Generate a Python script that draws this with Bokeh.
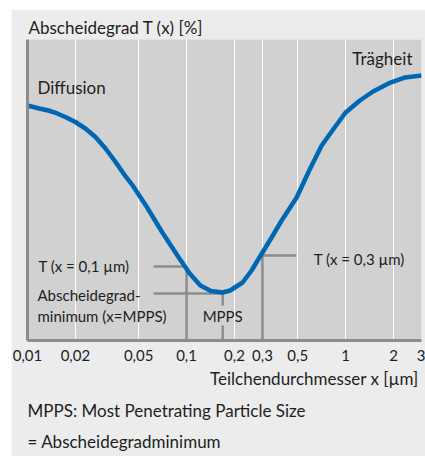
from bokeh.plotting import figure
from bokeh.models import FixedTicker, Label, Title
from bokeh.embed import file_html
from bokeh.resources import INLINE

# Curve (particle diameter in µm, separation efficiency in relative units 0-100)
diameter = [0.01, 0.01185, 0.01351, 0.01539, 0.01755, 0.02, 0.02312, 0.02675, 0.03094,
            0.03579, 0.04138, 0.04583, 0.05628, 0.07013, 0.08884, 0.1047, 0.1222, 0.1425,
            0.1688, 0.188, 0.225, 0.2564, 0.2922, 0.3396, 0.3963, 0.4922, 0.5904, 0.7071,
            0.835, 1.0, 1.229, 1.489, 1.913, 2.371, 3.0]
efficiency = [78.07, 77.08, 76.41, 75.42, 74.09, 72.59, 70.43, 67.61, 63.79,
              59.30, 54.49, 51.50, 44.35, 36.05, 27.74, 22.26, 18.27, 16.45,
              15.95, 16.61, 19.27, 23.26, 28.24, 33.89, 39.87, 47.51, 56.48, 64.78,
              70.10, 75.75, 79.73, 82.72, 85.71, 87.38, 88.04]

tick_values = [0.01, 0.02, 0.05, 0.1, 0.2, 0.3, 0.5, 1, 2, 3]
tick_labels = ["0,01", "0,02", "0,05", "0,1", "0,2", "0,3", "0,5", "1", "2", "3"]

# Marked points
x_01, t_01 = 0.1, 24.6
x_mpps, t_mpps = 0.1688, 15.6
x_03, t_03 = 0.3, 28.2

FONT = "Lato"
TXT = "#1e1e1e"
GRAY = "#8c8c8c"

p = figure(width=414, height=447, x_axis_type="log", x_range=(0.01, 3), y_range=(0, 100),
           output_backend="svg", toolbar_location=None,
           background_fill_color="#d1d1d1", border_fill_color="#ececec",
           outline_line_color=None,
           min_border_left=16, min_border_right=4, min_border_top=30, min_border_bottom=116)
p.margin = (9, 0, 0, 11)

p.title.text = "Abscheidegrad T (x) [%]"
p.title.text_font = FONT
p.title.text_font_size = "17px"
p.title.text_font_style = "normal"
p.title.text_color = TXT
p.title.align = "left"
p.title.offset = 1
p.title.standoff = 4

p.xaxis.ticker = FixedTicker(ticks=tick_values)
p.xaxis.major_label_overrides = {v: l for v, l in zip(tick_values, tick_labels)}
p.xaxis.minor_tick_line_color = None
p.xaxis.major_tick_line_color = None
p.xaxis.major_tick_out = 0
p.xaxis.major_tick_in = 0
p.xaxis.axis_line_color = GRAY
p.xaxis.axis_line_width = 3
p.xaxis.major_label_standoff = 9
p.xaxis.major_label_text_font = FONT
p.xaxis.major_label_text_font_size = "15px"
p.xaxis.major_label_text_color = TXT

p.yaxis.ticker = FixedTicker(ticks=[])
p.yaxis.minor_tick_line_color = None
p.yaxis.major_tick_line_color = None
p.yaxis.major_label_text_font_size = "0px"
p.yaxis.axis_line_color = GRAY
p.yaxis.axis_line_width = 3

p.xgrid.grid_line_color = "white"
p.xgrid.grid_line_width = 1
p.ygrid.grid_line_color = None

def below(text, align, offset, standoff):
    p.add_layout(Title(text=text, align=align, offset=offset, standoff=standoff,
                       text_font=FONT, text_font_size="17px", text_font_style="normal",
                       text_color=TXT), "below")

below("Teilchendurchmesser x [µm]", "right", 3, 5)
below("MPPS: Most Penetrating Particle Size", "left", 0, 12)
below("= Abscheidegradminimum", "left", 0, 4)

# annotation guide lines
p.segment(x0=[0.062, x_01], y0=[t_01, t_01], x1=[x_01, x_01], y1=[t_01, 0],
          line_color=GRAY, line_width=2.5)
p.segment(x0=[0.062, x_mpps, x_mpps], y0=[t_mpps, t_mpps, 5.0],
          x1=[x_mpps, x_mpps, x_mpps], y1=[t_mpps, 11.6, 0],
          line_color=GRAY, line_width=2.5)
p.segment(x0=[x_03, x_03], y0=[t_03, t_03], x1=[0.49, x_03], y1=[t_03, 0],
          line_color=GRAY, line_width=2.5)

p.line(diameter, efficiency, line_color="#0067b3", line_width=4.5, line_join="round")

def lab(x, y, text, size="15px", align="left", xo=0):
    p.add_layout(Label(x=x, y=y, text=text, text_font=FONT, text_font_size=size,
                       text_color=TXT, text_align=align, text_baseline="middle",
                       x_offset=xo))

lab(0.01, 84.1, "Diffusion", "17px", xo=10)
lab(3, 93.7, "Trägheit", "17px", "right", xo=-9)
lab(0.01, 24.6, "T (x = 0,1 µm)", "15px", xo=11)
lab(0.01, 15.0, "Abscheidegrad-", "15px", xo=10)
lab(0.01, 8.3, "minimum (x=MPPS)", "15px", xo=10)
lab(x_mpps, 8.0, "MPPS", "15px", "center")
lab(0.63, 27.2, "T (x = 0,3 µm)", "15px")

open("out.html", "w").write(file_html(p, INLINE))
